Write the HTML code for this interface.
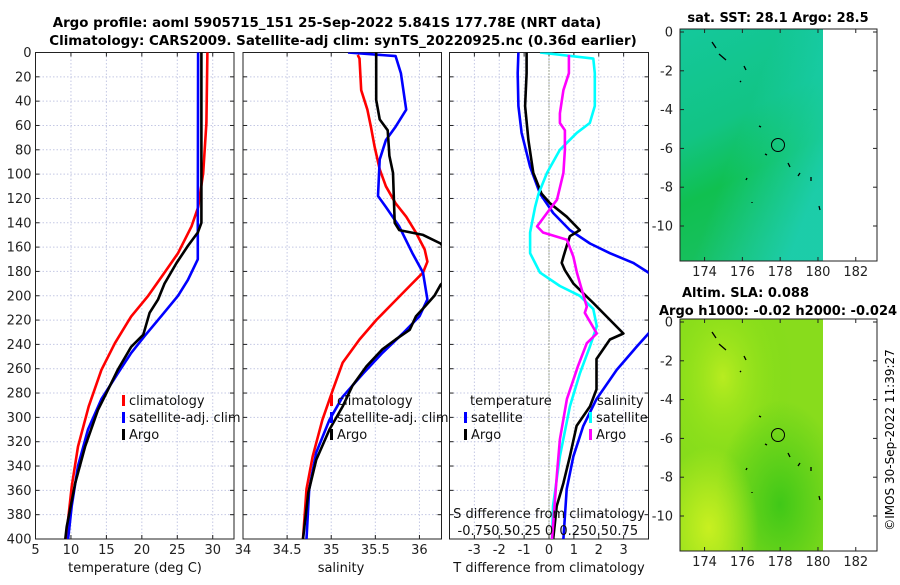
<!DOCTYPE html>
<html><head><meta charset="utf-8"><style>
body{margin:0;background:#fff;width:900px;height:580px;overflow:hidden}
svg{font-family:"DejaVu Sans","Liberation Sans",sans-serif}
</style></head><body>
<svg id="c" width="900" height="580" viewBox="0 0 900 580">
<defs>
<linearGradient id="sst" x1="0" y1="0" x2="0.3" y2="1">
<stop offset="0" stop-color="#14c89c"/><stop offset="0.45" stop-color="#12c484"/><stop offset="0.7" stop-color="#10c050"/><stop offset="1" stop-color="#18c060"/></linearGradient>
<linearGradient id="sst2" x1="0" y1="0" x2="1" y2="0.6">
<stop offset="0.5" stop-color="rgba(30,210,200,0)"/><stop offset="1" stop-color="rgba(30,210,200,0.7)"/></linearGradient>
<radialGradient id="sla1" cx="0.3" cy="0.25" r="0.5"><stop offset="0" stop-color="#b8ec20"/><stop offset="1" stop-color="rgba(120,220,20,0)"/></radialGradient>
<radialGradient id="sla2" cx="0.7" cy="0.8" r="0.45"><stop offset="0" stop-color="#40c818"/><stop offset="1" stop-color="rgba(64,200,24,0)"/></radialGradient>
<radialGradient id="sla3" cx="0.2" cy="0.9" r="0.35"><stop offset="0" stop-color="#c8f020"/><stop offset="1" stop-color="rgba(200,240,32,0)"/></radialGradient>
</defs>
<text x="327" y="27" font-size="13.4" font-weight="bold" text-anchor="middle">Argo profile: aoml 5905715_151 25-Sep-2022 5.841S 177.78E (NRT data)</text>
<text x="343" y="45" font-size="13.4" font-weight="bold" text-anchor="middle">Climatology: CARS2009. Satellite-adj clim: synTS_20220925.nc (0.36d earlier)</text>
<g id="maps">
<text x="778" y="22" font-size="13" font-weight="bold" text-anchor="middle">sat. SST: 28.1 Argo: 28.5</text>
<rect x="680" y="29" width="143" height="232" fill="url(#sst)"/>
<rect x="680" y="29" width="143" height="232" fill="url(#sst2)"/>
<rect x="680" y="29" width="197" height="232" fill="none" stroke="#222"/>
<circle cx="778" cy="145" r="6.5" fill="none" stroke="#000"/>
<text x="682" y="297" font-size="13" font-weight="bold">Altim. SLA: 0.088</text>
<text x="659" y="315" font-size="13" font-weight="bold">Argo h1000: -0.02 h2000: -0.024</text>
<rect x="680" y="319" width="143" height="232" fill="#88dc1c"/>
<rect x="680" y="319" width="143" height="232" fill="url(#sla1)"/>
<rect x="680" y="319" width="143" height="232" fill="url(#sla2)"/>
<rect x="680" y="319" width="143" height="232" fill="url(#sla3)"/>
<rect x="680" y="319" width="197" height="232" fill="none" stroke="#222"/>
<circle cx="778" cy="435" r="6.5" fill="none" stroke="#000"/>
</g>
<text transform="translate(894,440) rotate(-90)" font-size="12" text-anchor="middle">©IMOS 30-Sep-2022 11:39:27</text>
</svg>
<script>
// depth axis
const depthTicks=[0,20,40,60,80,100,120,140,160,180,200,220,240,260,280,300,320,340,360,380,400];
// temperature panel
const tTicks=[5,10,15,20,25,30];
const tClimD=[0,58,99,127,143,165,181,200,217,239,261,291,324,357,400];
const tClimV=[29.25,29.1,28.65,27.95,27.0,25.1,23.2,20.9,18.5,16.2,14.3,12.5,11.0,10.1,9.3];
const tSatD=[0,150,170,187,200,217,233,247,264,285,310,340,373,400];
const tSatV=[27.93,27.9,27.9,26.5,25.1,22.7,20.4,18.5,16.6,14.3,12.4,11.0,10.1,9.6];
const tArgoD=[0,140,148,159,173,190,203,214,232,242,261,280,294,324,354,390,400];
const tArgoV=[28.4,28.4,27.9,26.5,24.9,23.2,22.3,21.1,20.2,18.5,16.6,15.0,13.8,12.0,10.6,9.4,9.2];
// salinity panel
const sTicks=[34,34.5,35,35.5,36];
const sClimD=[2,5,31,47,61,77,96,110,124,135,148,162,172,181,192,206,220,236,255,277,302,332,359,400];
const sClimV=[35.30,35.32,35.34,35.41,35.45,35.49,35.55,35.62,35.73,35.85,35.96,36.06,36.09,36.04,35.89,35.70,35.51,35.32,35.13,35.02,34.90,34.79,34.72,34.68];
const sSatD=[0,3,17,47,61,72,88,118,127,143,165,181,203,217,231,247,264,283,302,329,359,400];
const sSatV=[35.19,35.73,35.79,35.85,35.73,35.62,35.55,35.53,35.62,35.77,35.92,36.04,36.09,36.00,35.81,35.58,35.36,35.13,34.98,34.83,34.75,34.72];
const sArgoD=[0,39,55,64,85,99,140,146,150,157,175,191,200,209,217,228,236,244,258,274,291,310,335,362,400];
const sArgoV=[35.51,35.51,35.55,35.64,35.66,35.70,35.72,35.77,36.04,36.24,36.45,36.24,36.17,36.06,35.96,35.89,35.73,35.58,35.40,35.24,35.13,34.98,34.83,34.74,34.68];
// difference panel
const dTicks=[-3,-2,-1,0,1,2,3];
const sdTickLabels=["-0.75","-0.5","-0.25","0","0.25","0.5","0.75"];
const dtSatD=[0,17,44,66,94,116,132,146,157,165,173,181,205,231,242,261,285,307,332,359,400];
const dtSatV=[-1.23,-1.26,-1.23,-1.10,-0.76,-0.36,0.17,0.84,1.65,2.45,3.39,4.0,5.0,4.0,3.52,2.72,1.91,1.38,0.98,0.71,0.58];
const dtArgoD=[0,17,44,72,99,116,124,135,146,151,159,168,173,179,190,198,206,217,231,236,252,277,291,307,332,354,373,400];
const dtArgoV=[-0.90,-0.90,-0.96,-0.83,-0.63,-0.30,0.04,0.71,1.24,0.84,0.71,0.58,0.51,0.64,0.98,1.38,1.78,2.31,2.99,2.45,1.91,1.91,1.65,1.11,0.84,0.58,0.31,0.17];
const dsSatD=[0,5,17,44,58,66,80,99,116,127,148,165,181,192,200,211,225,242,264,291,332,373,400];
const dsSatV=[-0.09,0.445,0.46,0.46,0.41,0.28,0.11,-0.02,-0.105,-0.14,-0.19,-0.19,-0.09,0.11,0.31,0.445,0.48,0.41,0.31,0.21,0.11,0.04,0.03];
const dsArgoD=[2,17,31,50,58,64,80,99,121,132,143,148,154,168,181,195,209,214,231,239,258,285,318,346,400];
const dsArgoV=[0.20,0.20,0.145,0.11,0.11,0.16,0.16,0.145,0.08,-0.02,-0.12,-0.06,0.18,0.245,0.28,0.33,0.38,0.36,0.48,0.38,0.29,0.18,0.11,0.08,0.03];
// map axes
const lonTicks=[174,176,178,180,182];
const latTicks=[0,-2,-4,-6,-8,-10];

const NS='http://www.w3.org/2000/svg';
const svg=document.getElementById('c');
function el(t,a,p){const e=document.createElementNS(NS,t);for(const k in a)e.setAttribute(k,a[k]);(p||svg).appendChild(e);return e;}
const Y0=52.5,Y1=539;
const yD=d=>Y0+(Y1-Y0)*d/400;
function panel(name,x0,x1,lo,hi,ticks,labels,showY){
  const g=el('g',{});
  
  
  const xs=v=>x0+(x1-x0)*(v-lo)/(hi-lo);
  const cp=el('clipPath',{id:'cp-'+name},g);
  el('rect',{x:x0,y:Y0,width:x1-x0,height:Y1-Y0},cp);
  ticks.forEach((t,i)=>{const x=xs(t);
    if(x>x0+1&&x<x1-1){const gl=el('line',{x1:x,x2:x,y1:Y0,y2:Y1,stroke:'#c4c8e4','stroke-dasharray':'1.5,2'},g);
    
    
    el('line',{x1:x,x2:x,y1:Y0,y2:Y0+4,stroke:'#222'},g);el('line',{x1:x,x2:x,y1:Y1,y2:Y1-4,stroke:'#222'},g);}
    const tl=el('text',{x:x,y:554,'font-size':13,'text-anchor':'middle',fill:'#222'},g);tl.textContent=labels[i];
    
    
  });
  depthTicks.forEach(d=>{const y=yD(d);
    if(d>0&&d<400){const gl=el('line',{x1:x0,x2:x1,y1:y,y2:y,stroke:'#c4c8e4','stroke-dasharray':'1.5,2'},g);
    
    }
    el('line',{x1:x0,x2:x0+4,y1:y,y2:y,stroke:'#222'},g);el('line',{x1:x1,x2:x1-4,y1:y,y2:y,stroke:'#222'},g);
    if(showY){const tl=el('text',{x:x0-4,y:y+4.5,'font-size':13,'text-anchor':'end',fill:'#222'},g);tl.textContent=d;
    
    }
  });
  el('rect',{x:x0,y:Y0,width:x1-x0,height:Y1-Y0,fill:'none',stroke:'#222'},g);
  return {g,xs,clip:'url(#cp-'+name+')'};
}
function line(P,D,V,color,name,scale){
  const pts=D.map((d,i)=>P.xs(V[i]*(scale||1)).toFixed(1)+','+yD(d).toFixed(1)).join(' ');
  const l=el('polyline',{points:pts,fill:'none',stroke:color,'stroke-width':2.6,'stroke-linejoin':'round','clip-path':P.clip},P.g);
  
  
}
function txt(g,x,y,s,name,anchor){const t=el('text',{x:x,y:y,'font-size':13,fill:'#111','text-anchor':anchor||'start'},g);t.textContent=s;
  
  return t;}
function leg(g,x,y,color,s,name){const m=el('rect',{x:x,y:y-10,width:3,height:11,fill:color},g);
  
  
  txt(g,x+7,y,s,name);}

const P1=panel('temperature-panel',35.5,234,5,33,tTicks,tTicks.map(String),true);
line(P1,tClimD,tClimV,'#ff0000','temp-climatology-line');
line(P1,tSatD,tSatV,'#0000ff','temp-satellite-line');
line(P1,tArgoD,tArgoV,'#000','temp-argo-line');
leg(P1.g,122,405,'#ff0000','climatology','legend-climatology');
leg(P1.g,122,422,'#0000ff','satellite-adj. clim','legend-satellite');
leg(P1.g,122,439,'#000','Argo','legend-argo');
txt(P1.g,135,572,'temperature (deg C)','x-axis-title-temperature','middle');

const P2=panel('salinity-panel',243,441.5,34,36.25,sTicks,sTicks.map(String),false);
line(P2,sClimD,sClimV,'#ff0000','sal-climatology-line');
line(P2,sSatD,sSatV,'#0000ff','sal-satellite-line');
line(P2,sArgoD,sArgoV,'#000','sal-argo-line');
leg(P2.g,330,405,'#ff0000','climatology','legend-climatology');
leg(P2.g,330,422,'#0000ff','satellite-adj. clim','legend-satellite');
leg(P2.g,330,439,'#000','Argo','legend-argo');
txt(P2.g,341,572,'salinity','x-axis-title-salinity','middle');

const P3=panel('difference-panel',449.5,648.5,-4,4,dTicks,dTicks.map(String),false);
const z=el('line',{x1:P3.xs(0),x2:P3.xs(0),y1:Y0,y2:Y1,stroke:'#556030','stroke-dasharray':'1,2'},P3.g);


line(P3,dtSatD,dtSatV,'#0000ff','tdiff-satellite-line');
line(P3,dtArgoD,dtArgoV,'#000','tdiff-argo-line');
line(P3,dsSatD,dsSatV,'#00ffff','sdiff-satellite-line',4);
line(P3,dsArgoD,dsArgoV,'#ff00ff','sdiff-argo-line',4);
txt(P3.g,470,405,'temperature','legend-temperature-heading');
leg(P3.g,464,422,'#0000ff','satellite','legend-t-satellite');
leg(P3.g,464,439,'#000','Argo','legend-t-argo');
txt(P3.g,597,405,'salinity','legend-salinity-heading');
leg(P3.g,589,422,'#00ffff','satellite','legend-s-satellite');
leg(P3.g,589,439,'#ff00ff','Argo','legend-s-argo');
txt(P3.g,549,518,'S difference from climatology','s-axis-title','middle');
dTicks.forEach((t,i)=>{txt(P3.g,P3.xs(t),535,sdTickLabels[i],'s-tick-label','middle');});
txt(P3.g,549,572,'T difference from climatology','x-axis-title-tdiff','middle');

// maps axes
const mapsG=document.getElementById('maps');
function mapAxes(top,name){
  const lonX=v=>680+(v-172.7)*18.9, latY=v=>top+3+(-v)*19.4;
  lonTicks.forEach(v=>{const x=lonX(v);
    el('line',{x1:x,x2:x,y1:top+232,y2:top+228,stroke:'#222'},mapsG);el('line',{x1:x,x2:x,y1:top,y2:top+4,stroke:'#222'},mapsG);
    const t=el('text',{x:x,y:top+247,'font-size':13,'text-anchor':'middle',fill:'#222'},mapsG);t.textContent=v;
    
    });
  latTicks.forEach(v=>{const y=latY(v);
    el('line',{x1:680,x2:684,y1:y,y2:y,stroke:'#222'},mapsG);el('line',{x1:877,x2:873,y1:y,y2:y,stroke:'#222'},mapsG);
    const t=el('text',{x:673,y:y+4.5,'font-size':13,'text-anchor':'end',fill:'#222'},mapsG);t.textContent=v;
    
    });
  [[712,42,716,48],[719,54,726,60],[744,66,746,70],[740,81,741,82],[759,126,761,127],[765,154,767,155],[788,163,790,167],[800,173,798,176],[811,177,811,181],[819,206,820,210],[752,202,752,203],[747,178,746,180]].forEach(s=>{
    el('line',{x1:s[0],y1:s[1]+top-29,x2:s[2],y2:s[3]+top-29,stroke:'#000','stroke-width':1.3},mapsG);});
}
mapAxes(29,'sst-map');
mapAxes(319,'sla-map');
</script>
</body></html>
